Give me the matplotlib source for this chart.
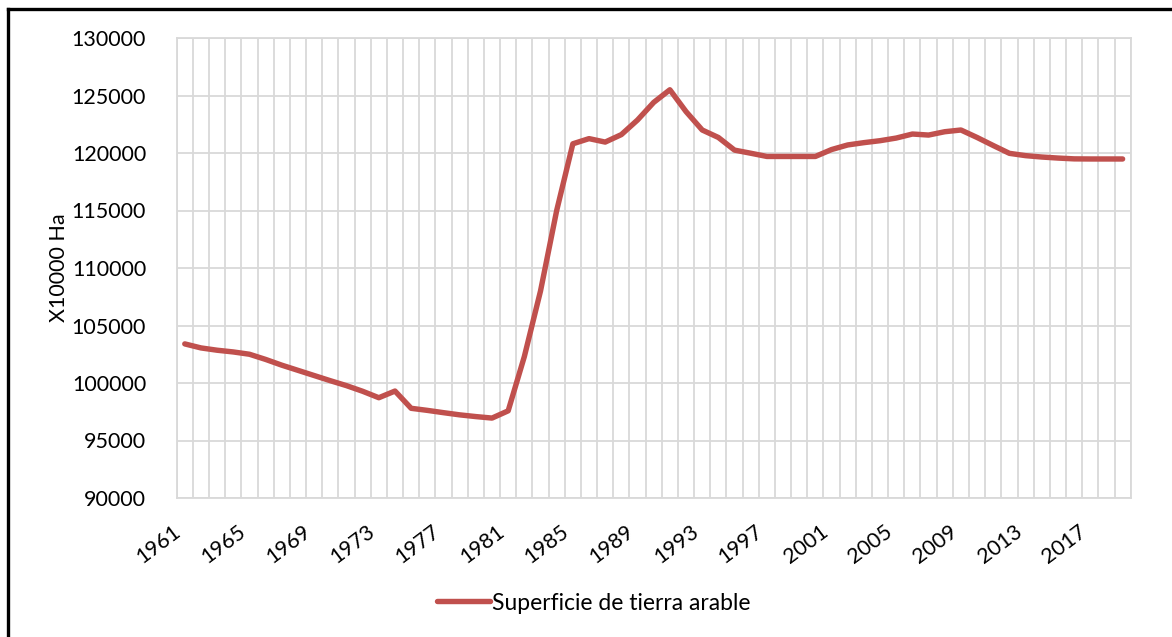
import numpy as np
import matplotlib
matplotlib.use("Agg")
import matplotlib.pyplot as plt
from matplotlib.lines import Line2D
import matplotlib.transforms as mtransforms

plt.rcParams['font.family'] = ['Lato', 'DejaVu Sans']

years = list(range(1961, 2020))
superficie = [103400, 103050, 102850, 102700, 102500, 102050, 101550, 101100, 100650, 100200,
              99770, 99280, 98720, 99300, 97800, 97620, 97420, 97230, 97080, 96950,
              97580, 102300, 108000, 115000, 120800, 121250, 120950, 121600, 122870, 124400,
              125500, 123600, 122000, 121350, 120250, 119980, 119700, 119700, 119700, 119700,
              120300, 120700, 120900, 121070, 121300, 121650, 121560, 121850, 122000, 121350,
              120650, 119970, 119770, 119650, 119560, 119490, 119480, 119480, 119480]
series_name = "Superficie de tierra arable"
y_label = "X10000 Ha"
y_ticks = list(range(90000, 130001, 5000))

W, H = 1172, 637
fig = plt.figure(figsize=(W / 100, H / 100), dpi=100)
ax = fig.add_axes([176.7 / W, 1 - 498 / H, (1130.7 - 176.7) / W, (498 - 38) / H])

n = len(years)
x = np.arange(n)
line, = ax.plot(x, superficie, color='#C0504D', lw=3.9, solid_joinstyle='round',
                solid_capstyle='round', label=series_name, zorder=3)

ax.set_xlim(-0.5, n - 0.5)
ax.set_ylim(90000, 130000)
ax.set_yticks(y_ticks)
ax.set_yticklabels([str(v) for v in y_ticks], fontsize=15.5)

ax.set_xticks(np.arange(-0.5, n, 1), minor=True)
ax.set_xticks(x[::4])
ax.set_xticklabels([str(y) for y in years[::4]], fontsize=15.5, rotation=37,
                   ha='right', va='top')
offset = mtransforms.ScaledTranslation(3 / 100, 0, fig.dpi_scale_trans)
for lbl in ax.get_xticklabels():
    lbl.set_transform(lbl.get_transform() + offset)

ax.tick_params(axis='both', which='both', length=0)
ax.tick_params(axis='x', pad=17)
ax.tick_params(axis='y', pad=22)
ax.grid(which='minor', axis='x', color='#d9d9d9', lw=1.3)
ax.grid(which='major', axis='y', color='#d9d9d9', lw=1.3)
ax.grid(which='major', axis='x', visible=False)
for s in ax.spines.values():
    s.set_color('#d9d9d9')
    s.set_linewidth(1.3)
ax.set_axisbelow(True)

ax.set_ylabel(y_label, fontsize=15.5, labelpad=2)

fig.legend(handles=[line], labels=[series_name], loc='center',
           bbox_to_anchor=(594 / W, 1 - 603 / H), frameon=False, fontsize=16.5,
           handlelength=2.3, handletextpad=0.1)

# outer chart border (extends past right/bottom edges)
fig.add_artist(Line2D([7.5 / W, 1.01], [1 - 9 / H, 1 - 9 / H], transform=fig.transFigure,
                      color='black', lw=2.4))
fig.add_artist(Line2D([7.5 / W, 7.5 / W], [-0.01, 1 - 9 / H], transform=fig.transFigure,
                      color='black', lw=2.4))

fig.savefig("out.png", dpi=100)
